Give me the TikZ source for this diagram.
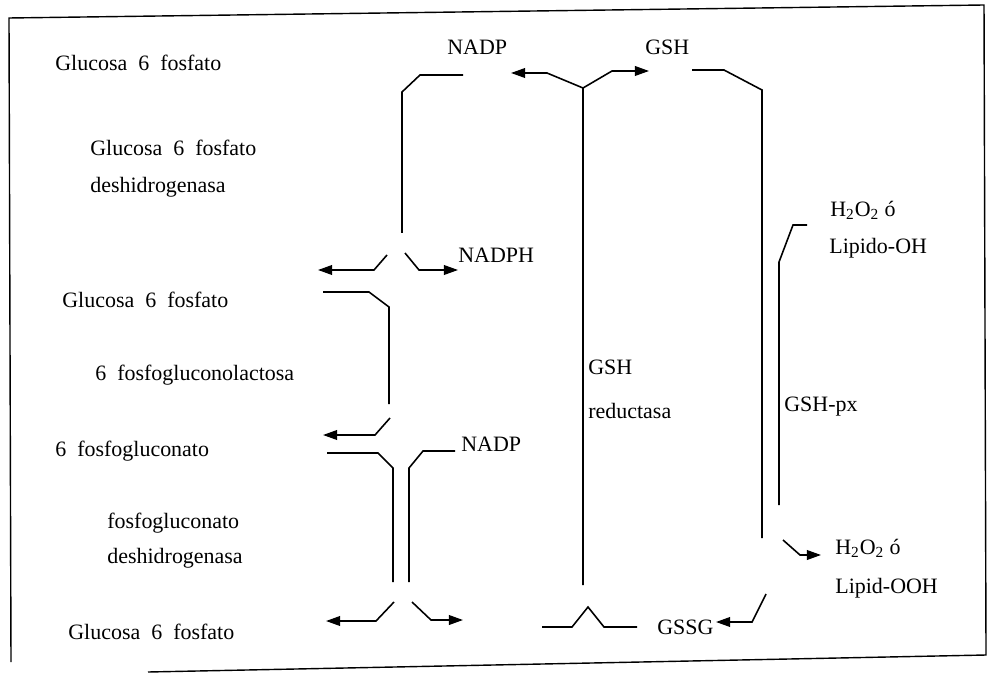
\documentclass[tikz,border=0pt]{standalone}
\usepackage{fontspec}
\setmainfont{Liberation Serif}
\usepackage{tikz}
\usetikzlibrary{arrows.meta}
\tikzset{lbl/.style={anchor=west, inner sep=0pt, font=\fontsize{12.5}{14}\selectfont},
  flow/.style={line width=0.9pt},
  arr/.style={flow, -{Triangle[length=8pt, width=5.5pt]}}}
\newcommand{\wsp}{\hspace{0.5em}}

\begin{document}
\begin{tikzpicture}[x=0.02cm, y=-0.02cm]
\useasboundingbox (0,0) rectangle (989,675);
% frame
\draw[line width=0.8pt] (11,662) -- (9,18) -- (984,5) -- (986,655) -- (148,672);

% pathway labels
\node[lbl] (g6pa) at (55,63) {Glucosa\wsp 6\wsp fosfato};
\node[lbl] (g6pd) at (90,148) {Glucosa\wsp 6\wsp fosfato};
\node[lbl] (g6pd2) at (90,187) {deshidrogenasa};
\node[lbl] (g6pb) at (62,300) {Glucosa\wsp 6\wsp fosfato};
\node[lbl] (lact) at (95,375) {6\wsp fosfogluconolactosa};
\node[lbl] (fgn) at (55,451) {6\wsp fosfogluconato};
\node[lbl] (fgd) at (107,523) {fosfogluconato};
\node[lbl] (fgd2) at (107,558) {deshidrogenasa};
\node[lbl] (g6pc) at (68,632) {Glucosa\wsp 6\wsp fosfato};
\node[lbl] (nadpa) at (447,47) {NADP};
\node[lbl] (gsha) at (645,47) {GSH};
\node[lbl] (nadph) at (458,255) {NADPH};
\node[lbl] (nadpb) at (461,444) {NADP};
\node[lbl] (gshr) at (588,367) {GSH};
\node[lbl] (gshr2) at (588,411) {reductasa};
\node[lbl] (gpx) at (784,407) {GSH-px};
\node[lbl] (hoa) at (830,210) {H\textsubscript{2}O\textsubscript{2} ó};
\node[lbl] (lipoh) at (829,248) {Lipido-OH};
\node[lbl] (hob) at (835,548) {H\textsubscript{2}O\textsubscript{2} ó};
\node[lbl] (lipooh) at (835,588) {Lipid-OOH};
\node[lbl] (gssg) at (657,627) {GSSG};

% free ends
\coordinate (nadpIn) at (463,75);
\coordinate (nadpOut) at (402,233);
\coordinate (sa1) at (387,255);
\coordinate (sa2) at (318,270);
\coordinate (sb1) at (405,253);
\coordinate (sb2) at (458,270);
\coordinate (g6pIn) at (323,292);
\coordinate (g6pOut) at (389,404);
\coordinate (sc1) at (390,418);
\coordinate (sc2) at (323,435);
\coordinate (fgnIn) at (327,453);
\coordinate (fgnOut) at (393,582);
\coordinate (nadpbIn) at (455,451);
\coordinate (nadpbOut) at (409,582);
\coordinate (sd1) at (394,602);
\coordinate (sd2) at (326,621);
\coordinate (se1) at (412,602);
\coordinate (se2) at (463,620);
\coordinate (redBot) at (583,585);
\coordinate (fork) at (583,88);
\coordinate (nadpTip) at (511,73);
\coordinate (gshTip) at (649,71);
\coordinate (bumpL) at (542,627);
\coordinate (bumpR) at (637,627);
\coordinate (gshIn) at (692,70);
\coordinate (gshOut) at (762,538);
\coordinate (sf1) at (766,594);
\coordinate (sf2) at (716,622);
\coordinate (lohIn) at (807,225);
\coordinate (lohOut) at (779,505);
\coordinate (sg1) at (783,540);
\coordinate (sg2) at (821,555);

% pentose phosphate side
\draw[flow] (nadpIn) -- (420,75) -- (402,92) -- (nadpOut);
\draw[arr] (sa1) -- (374,270) -- (sa2);
\draw[arr] (sb1) -- (419,270) -- (sb2);
\draw[flow] (g6pIn) -- (369,292) -- (389,307) -- (g6pOut);
\draw[arr] (sc1) -- (375,435) -- (sc2);
\draw[flow] (fgnIn) -- (378,453) -- (393,468) -- (fgnOut);
\draw[flow] (nadpbIn) -- (423,451) -- (409,468) -- (nadpbOut);
\draw[arr] (sd1) -- (376,621) -- (sd2);
\draw[arr] (se1) -- (431,620) -- (se2);

% glutathione side
\draw[arr] (redBot) -- (fork) -- (547,73) -- (nadpTip);
\draw[arr] (fork) -- (612,71) -- (gshTip);
\draw[flow] (bumpL) -- (572,627) -- (588,607) -- (604,627) -- (bumpR);
\draw[flow] (gshIn) -- (724,70) -- (762,90) -- (gshOut);
\draw[arr] (sf1) -- (752,622) -- (sf2);
\draw[flow] (lohIn) -- (793,225) -- (779,262) -- (lohOut);
\draw[arr] (sg1) -- (800,555) -- (sg2);
\end{tikzpicture}
\end{document}
